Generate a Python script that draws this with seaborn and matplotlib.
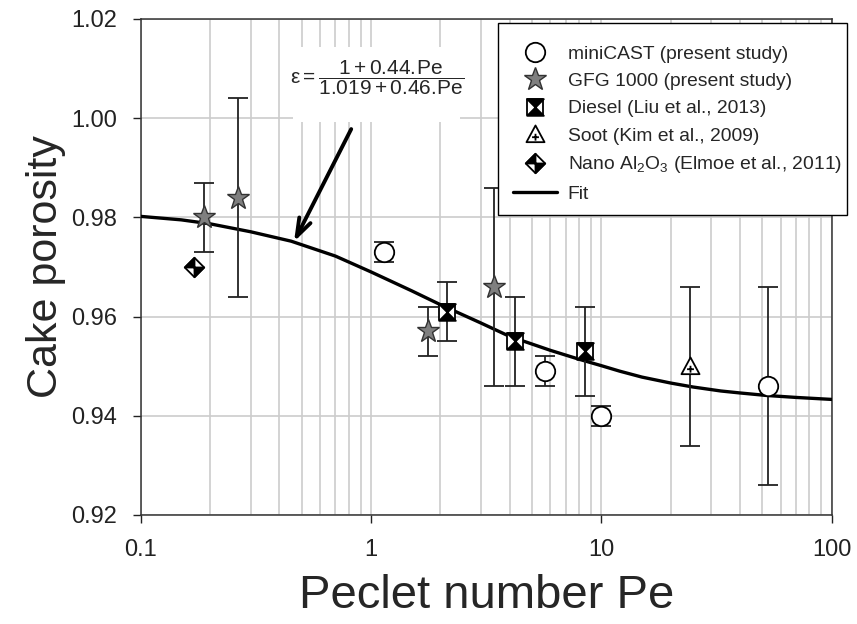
import numpy as np
import pandas as pd
import seaborn as sns
import matplotlib.pyplot as plt
from matplotlib.path import Path
from matplotlib.lines import Line2D
from matplotlib.patches import Rectangle
import matplotlib.ticker as mticker

sns.set_style("ticks")
plt.rcParams['font.family'] = ['Liberation Sans', 'DejaVu Sans']
plt.rcParams['mathtext.fontset'] = 'custom'
plt.rcParams['mathtext.rm'] = 'Liberation Sans'
plt.rcParams['mathtext.it'] = 'Liberation Sans:italic'
plt.rcParams['mathtext.bf'] = 'Liberation Sans:bold'
plt.rcParams['mathtext.default'] = 'regular'

DPI = 100

# data
mini_pe = [1.14, 5.7, 10.0, 53.0]
mini_eps = [0.973, 0.949, 0.940, 0.946]
mini_err = [0.002, 0.003, 0.002, 0.020]

gfg_pe = [0.188, 0.265, 1.76, 3.43]
gfg_eps = [0.980, 0.984, 0.957, 0.966]
gfg_err = [0.007, 0.020, 0.005, 0.020]

diesel_pe = [2.13, 4.22, 8.5]
diesel_eps = [0.961, 0.955, 0.953]
diesel_err = [0.006, 0.009, 0.009]

soot_pe = [24.3]
soot_eps = [0.950]
soot_err = [0.016]

nano_pe = [0.171]
nano_eps = [0.970]

fit_pe = [0.1, 0.15, 0.2, 0.3, 0.45, 0.7, 1.0, 1.5, 2.0, 3.0, 4.0, 6.0, 8.0, 10, 12, 15,
          20, 25, 33, 40, 52, 70, 100]
fit_eps = [0.9802, 0.9795, 0.9787, 0.9771, 0.9752, 0.9722, 0.9690, 0.9652, 0.9624, 0.9587,
           0.9560, 0.9532, 0.9514, 0.9501, 0.9490, 0.9478, 0.9466, 0.9458, 0.9450, 0.9446,
           0.9441, 0.9437, 0.9433]

x_ticks = [0.1, 1, 10, 100]
x_ticklabels = ["0.1", "1", "10", "100"]
y_ticks = [0.92, 0.94, 0.96, 0.98, 1.00, 1.02]

fit_df = pd.DataFrame({"Pe": fit_pe, "eps": fit_eps})

# custom marker shapes
square = Path([(-1, -1), (1, -1), (1, 1), (-1, 1), (-1, -1)], closed=True)
hourglass = Path([(-1, 1), (1, 1), (0, 0), (-1, 1), (-1, -1), (1, -1), (0, 0), (-1, -1)],
                 [Path.MOVETO, Path.LINETO, Path.LINETO, Path.CLOSEPOLY,
                  Path.MOVETO, Path.LINETO, Path.LINETO, Path.CLOSEPOLY])
diamond = Path([(0, 1), (1, 0), (0, -1), (-1, 0), (0, 1)], closed=True)
diamond_q = Path([(0, 0), (-1, 0), (0, 1), (0, 0), (0, 0), (1, 0), (0, -1), (0, 0)],
                 [Path.MOVETO, Path.LINETO, Path.LINETO, Path.CLOSEPOLY,
                  Path.MOVETO, Path.LINETO, Path.LINETO, Path.CLOSEPOLY])
tri_plus = Path([(0, 1), (-1, -0.85), (1, -0.85), (0, 1),
                 (-0.38, -0.3), (0.38, -0.3), (0, -0.68), (0, 0.08)],
                [Path.MOVETO, Path.LINETO, Path.LINETO, Path.CLOSEPOLY,
                 Path.MOVETO, Path.LINETO, Path.MOVETO, Path.LINETO])

fig = plt.figure(figsize=(8.57, 6.24), dpi=DPI)
ax = fig.add_axes([0.1642, 0.1747, 0.8063, 0.7949])
ax.set_xscale("log")

sns.lineplot(data=fit_df, x="Pe", y="eps", ax=ax, color="black", lw=2.4,
             estimator=None, sort=False, zorder=3)

err_kw = dict(fmt="none", ecolor="#222222", elinewidth=1.3, capsize=7.5, capthick=1.3, zorder=4)
ax.errorbar(mini_pe, mini_eps, yerr=mini_err, **err_kw)
ax.errorbar(gfg_pe, gfg_eps, yerr=gfg_err, **err_kw)
ax.errorbar(diesel_pe, diesel_eps, yerr=diesel_err, **err_kw)
ax.errorbar(soot_pe, soot_eps, yerr=soot_err, **err_kw)

mk = dict(ls="none", zorder=5, markeredgecolor="black", markeredgewidth=1.3)
h_mini = ax.plot(mini_pe, mini_eps, marker="o", ms=14, mfc="white", **mk)[0]
h_gfg = ax.plot(gfg_pe, gfg_eps, marker="*", ms=17, mfc="#7f7f7f",
                **{**mk, "markeredgecolor": "#333333", "markeredgewidth": 1.0})[0]
h_d1 = ax.plot(diesel_pe, diesel_eps, marker=square, ms=12, mfc="white", **mk)[0]
h_d2 = ax.plot(diesel_pe, diesel_eps, marker=hourglass, ms=12, mfc="black", **mk)[0]
h_soot = ax.plot(soot_pe, soot_eps, marker=tri_plus, ms=13, mfc="white", **mk)[0]
h_n1 = ax.plot(nano_pe, nano_eps, marker=diamond, ms=14, mfc="white", **mk)[0]
h_n2 = ax.plot(nano_pe, nano_eps, marker=diamond_q, ms=14, mfc="black", **mk)[0]
h_fit = Line2D([], [], color="black", lw=2.4)

ax.set_xlim(0.1, 100)
ax.set_ylim(0.92, 1.02)
ax.xaxis.set_major_locator(mticker.FixedLocator(x_ticks))
ax.xaxis.set_major_formatter(mticker.FixedFormatter(x_ticklabels))
ax.xaxis.set_minor_locator(mticker.LogLocator(base=10, subs=np.arange(2, 10)))
ax.xaxis.set_minor_formatter(mticker.NullFormatter())
ax.set_yticks(y_ticks)
ax.yaxis.set_major_formatter(mticker.FormatStrFormatter("%.2f"))

ax.grid(True, which="major", axis="y", color="#cccccc", lw=1.2, zorder=0)
ax.grid(True, which="both", axis="x", color="#cccccc", lw=1.2, zorder=0)
ax.set_axisbelow(True)
ax.tick_params(axis="both", which="major", direction="out", length=6, width=1,
               labelsize=17, colors="#222222")
ax.tick_params(axis="x", which="major", pad=11)
ax.tick_params(axis="y", which="major", pad=11)
ax.tick_params(axis="x", which="minor", length=0)
for s in ax.spines.values():
    s.set_linewidth(1.1)
    s.set_color("#333333")

ax.set_xlabel("Peclet number Pe", fontsize=34, labelpad=10)
ax.set_ylabel("Cake porosity", fontsize=31, labelpad=4)

# white panel behind the fit equation
ax.add_patch(Rectangle((0.2207, 0.792), 0.2417, 0.1515, transform=ax.transAxes,
                       facecolor="white", edgecolor="none", zorder=2))
ax.text(0.342, 0.881, r"$\varepsilon = \dfrac{1+0.44.\!Pe}{1.019+0.46.\!Pe}$",
        transform=ax.transAxes, ha="center", va="center", fontsize=15, zorder=6)
ax.annotate("", xy=(0.463, 0.9751), xytext=(0.82, 0.9978),
            arrowprops=dict(arrowstyle="->,head_length=1.3,head_width=0.45", lw=2.8,
                            color="black", shrinkA=0, shrinkB=0), zorder=6)

# legend frame drawn separately (it runs past the right spine)
ax.add_patch(Rectangle((0.517, 0.605), 0.505, 0.387, transform=ax.transAxes,
                       facecolor="white", edgecolor="black", lw=1.0, clip_on=False, zorder=9))
leg = ax.legend([h_mini, h_gfg, (h_d1, h_d2), h_soot, (h_n1, h_n2), h_fit],
                ["miniCAST (present study)", "GFG 1000 (present study)",
                 "Diesel (Liu et al., 2013)", "Soot (Kim et al., 2009)",
                 r"Nano Al$_2$O$_3$ (Elmoe et al., 2011)", "Fit"],
                loc="upper left", bbox_to_anchor=(0.5388, 0.947), borderaxespad=0,
                fontsize=13.85, frameon=False, borderpad=0,
                labelspacing=0.51, handlelength=2.3, handletextpad=0.55)
leg.set_zorder(10)

plt.savefig("out.png", dpi=DPI)
